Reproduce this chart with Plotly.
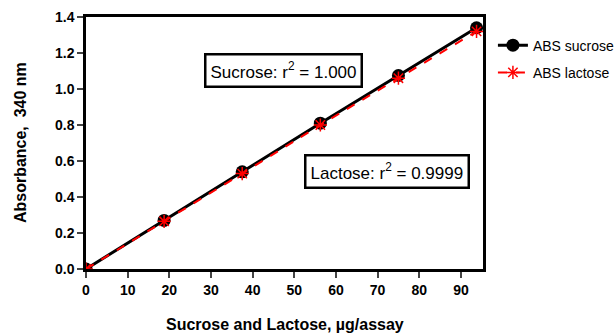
import plotly.graph_objects as go

amount = [0, 18.75, 37.5, 56.25, 75, 93.75]
abs_sucrose = [0.0, 0.27, 0.54, 0.81, 1.075, 1.34]
abs_lactose = [0.0, 0.265, 0.53, 0.80, 1.06, 1.32]
x_ticks = [0, 10, 20, 30, 40, 50, 60, 70, 80, 90]
y_ticks = [0.0, 0.2, 0.4, 0.6, 0.8, 1.0, 1.2, 1.4]

FONT = "Liberation Sans, Arial"

fig = go.Figure()
fig.add_trace(go.Scatter(x=amount, y=abs_sucrose, mode="lines+markers", name="ABS sucrose",
                         legendgroup="s",
                         line=dict(color="black", width=3),
                         marker=dict(symbol="circle", size=13, color="black")))
fig.add_trace(go.Scatter(x=amount, y=abs_lactose, mode="lines+markers", name="ABS lactose",
                         legendgroup="l",
                         line=dict(color="red", width=2, dash="dash"),
                         marker=dict(symbol="asterisk-open", size=11, color="red",
                                     line=dict(color="red", width=1.5))))

fig.add_annotation(x=0.497, y=1.105, xref="x domain", yref="y", xanchor="center", yanchor="middle",
                   text="Sucrose: r<sup>2</sup> = 1.000",
                   showarrow=False, font=dict(family=FONT, size=17, color="black"),
                   bordercolor="black", borderwidth=2.5, borderpad=4, bgcolor="white")
fig.add_annotation(x=0.758, y=0.54, xref="x domain", yref="y", xanchor="center", yanchor="middle",
                   text="Lactose: r<sup>2</sup> = 0.9999",
                   showarrow=False, font=dict(family=FONT, size=17, color="black"),
                   bordercolor="black", borderwidth=2.5, borderpad=4, bgcolor="white")
# axis titles
fig.add_annotation(x=0.5, y=-0.222, xref="paper", yref="paper", xanchor="center", yanchor="middle",
                   text="<b>Sucrose and Lactose, µg/assay</b>", showarrow=False,
                   font=dict(family=FONT, size=16, color="black"))
fig.add_annotation(x=-0.166, y=0.5, xref="paper", yref="paper", xanchor="center", yanchor="middle",
                   text="<b>Absorbance,  340 nm</b>", showarrow=False, textangle=-90,
                   font=dict(family=FONT, size=16, color="black"))

fig.update_xaxes(range=[0, 95.3], tickvals=x_ticks, ticks="outside", ticklen=6, tickwidth=2,
                 showline=True, linecolor="black", linewidth=2.5, mirror=True, showgrid=False,
                 zeroline=False, automargin=False,
                 tickfont=dict(family=FONT, size=14, color="black", weight="bold"))
fig.update_yaxes(range=[0, 1.4], tickvals=y_ticks, tickformat=".1f", ticks="outside", ticklen=6, tickwidth=2,
                 showline=True, linecolor="black", linewidth=2.5, mirror=True, showgrid=False,
                 zeroline=False, automargin=False,
                 tickfont=dict(family=FONT, size=14, color="black", weight="bold"))

fig.update_layout(width=616, height=333, margin=dict(l=86, r=133, t=17, b=64, autoexpand=False),
                  plot_bgcolor="white", paper_bgcolor="white",
                  legend=dict(x=1.025, y=0.95, xanchor="left", yanchor="top",
                              font=dict(family=FONT, size=14, color="black"),
                              tracegroupgap=6, itemwidth=30))
fig.write_html("out.html")
